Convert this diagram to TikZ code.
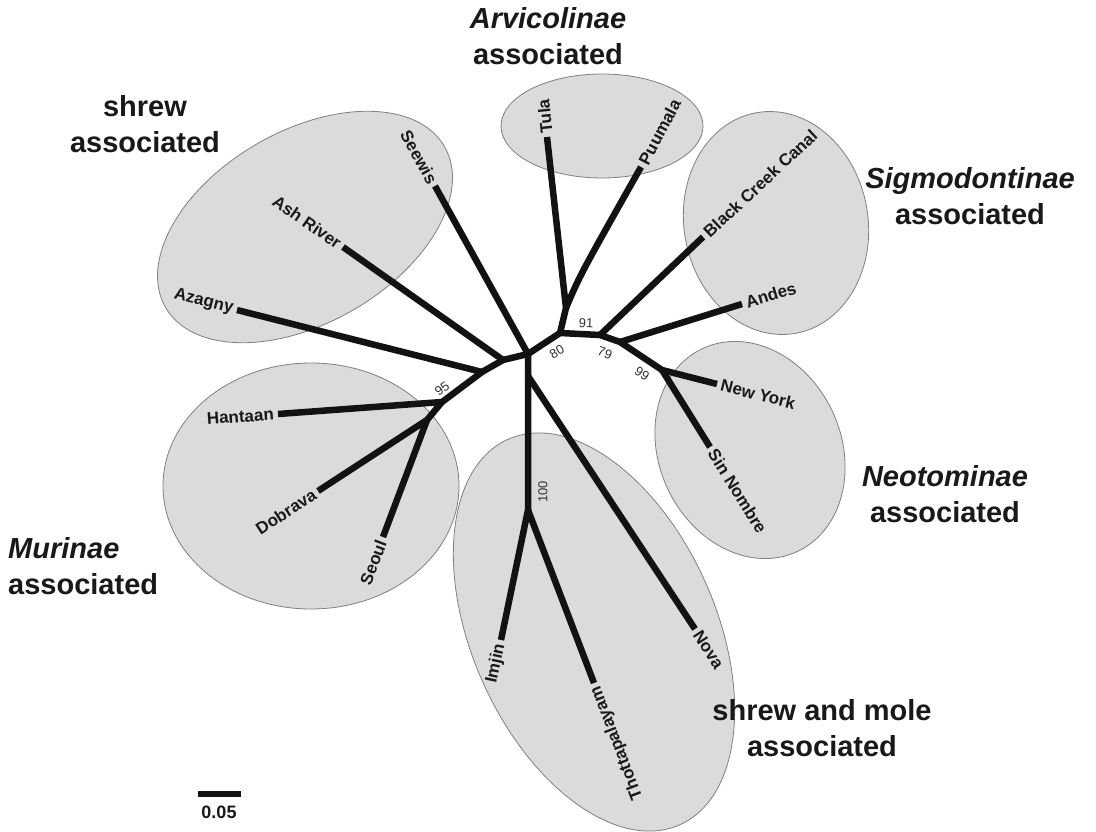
\documentclass[tikz,border=0pt]{standalone}
\usepackage{fontspec}
\setmainfont{Liberation Sans}
\begin{document}
\begin{tikzpicture}[x=1pt,y=-1pt,
  branch/.style={line width=6.5pt, color=black!93, line join=round},
  grp/.style={draw=black!50, line width=0.8pt, fill=black!14},
  taxon/.style={font=\bfseries\fontsize{17}{20}\selectfont, inner sep=4pt, text=black!90},
  boot/.style={font=\fontsize{13}{15}\selectfont, text=black!80, inner sep=1pt},
  group/.style={font=\bfseries\fontsize{29}{36}\selectfont, align=center, text=black!90, inner sep=0pt}]
\useasboundingbox (0,0) rectangle (1096,832);
\fill[white] (0,0) rectangle (1096,832);

% group ellipses
\draw[grp, rotate around={30:(305,227)}] (305,227) ellipse [x radius=161pt, y radius=96pt];
\draw[grp] (602,126) ellipse [x radius=101pt, y radius=52pt];
\draw[grp, rotate around={10:(776,223)}] (776,223) ellipse [x radius=92pt, y radius=112pt];
\draw[grp, rotate around={25:(750,450)}] (750,450) ellipse [x radius=91pt, y radius=112pt];
\draw[grp] (311,486) ellipse [x radius=148pt, y radius=123pt];
\draw[grp, rotate around={24:(594,632)}] (594,632) ellipse [x radius=122pt, y radius=211pt];

% internal nodes
\coordinate (C) at (528,354);
\coordinate (B) at (503,360);
\coordinate (D) at (482,372);
\coordinate (H95) at (442,402);
\coordinate (M) at (427,420);
\coordinate (N) at (528,376);
\coordinate (N100) at (528,510);
\coordinate (A80) at (560,333);
\coordinate (T) at (566,308);
\coordinate (N91) at (600,335);
\coordinate (AN) at (620,342);
\coordinate (N99) at (662,370);
% tips
\coordinate (tSeewis) at (435,186);
\coordinate (tAsh) at (343,247);
\coordinate (tAzagny) at (237,310);
\coordinate (tHantaan) at (278,414);
\coordinate (tDobrava) at (318,491);
\coordinate (tSeoul) at (383,537);
\coordinate (tImjin) at (501,640);
\coordinate (tThott) at (594,683);
\coordinate (tNova) at (695,629);
\coordinate (tSin) at (710,447);
\coordinate (tNY) at (717,384);
\coordinate (tAndes) at (742,304);
\coordinate (tBCC) at (703,237);
\coordinate (tPuumala) at (641,167);
\coordinate (tTula) at (547,137);

% branches
\draw[branch] (tHantaan) -- (H95) -- (D) -- (B) -- (C) -- (A80) -- (N91) -- (AN) -- (N99) -- (tNY);
\draw[branch] (tDobrava) -- (M) -- (H95);
\draw[branch] (tSeoul) -- (M);
\draw[branch] (tAzagny) -- (D);
\draw[branch] (tAsh) -- (B);
\draw[branch] (tSeewis) -- (C);
\draw[branch] (C) -- (N) -- (N100) -- (tImjin);
\draw[branch] (N100) -- (tThott);
\draw[branch] (N) -- (tNova);
\draw[branch] (A80) -- (T) -- (tTula);
\draw[branch] (T) .. controls (580,275) .. (tPuumala);
\draw[branch] (N91) -- (tBCC);
\draw[branch] (AN) -- (tAndes);
\draw[branch] (N99) -- (tSin);
\foreach \p in {C,B,D,H95,M,N,N100,A80,T,N91,AN,N99}
  \fill[black!93] (\p) circle[radius=3.25pt];

% taxon labels
\node[taxon, anchor=east, rotate=-61] (lSeewis) at (tSeewis) {Seewis};
\node[taxon, anchor=east, rotate=-35] (lAsh) at (tAsh) {Ash River};
\node[taxon, anchor=east, rotate=-14] (lAzagny) at (tAzagny) {Azagny};
\node[taxon, anchor=east, rotate=4] (lHantaan) at (tHantaan) {Hantaan};
\node[taxon, anchor=east, rotate=33] (lDobrava) at (tDobrava) {Dobrava};
\node[taxon, anchor=east, rotate=69] (lSeoul) at (tSeoul) {Seoul};
\node[taxon, anchor=east, rotate=78] (lImjin) at (tImjin) {Imjin};
\node[taxon, anchor=east, rotate=111] (lThott) at (tThott) {Thottapalayam};
\node[taxon, anchor=west, rotate=-57] (lNova) at (tNova) {Nova};
\node[taxon, anchor=west, rotate=-58] (lSin) at (tSin) {Sin Nombre};
\node[taxon, anchor=west, rotate=-14] (lNY) at (tNY) {New York};
\node[taxon, anchor=west, rotate=17] (lAndes) at (tAndes) {Andes};
\node[taxon, anchor=west, rotate=43] (lBCC) at (tBCC) {Black Creek Canal};
\node[taxon, anchor=west, rotate=62] (lPuumala) at (tPuumala) {Puumala};
\node[taxon, anchor=west, rotate=96] (lTula) at (tTula) {Tula};

% bootstrap values
\node[boot, rotate=-3] (b91) at (586,323) {91};
\node[boot, rotate=30] (b80) at (557,352) {80};
\node[boot, rotate=-20] (b79) at (605,353) {79};
\node[boot, rotate=-33] (b99) at (642,374) {99};
\node[boot, rotate=36] (b95) at (442,389) {95};
\node[boot, rotate=90] (b100) at (543,492) {100};

% group labels
\node[group] (gShrew) at (145,124) {shrew\\associated};
\node[group] (gArv) at (548,36) {\itshape Arvicolinae\\associated};
\node[group] (gSig) at (970,196) {\itshape Sigmodontinae\\associated};
\node[group] (gNeo) at (945,494) {\itshape Neotominae\\associated};
\node[group, align=left, anchor=west] (gMur) at (8,566) {\itshape Murinae\\associated};
\node[group] (gSM) at (822,728) {shrew and mole\\associated};

% scale bar
\coordinate (sbL) at (198,794);
\coordinate (sbR) at (241,794);
\draw[line width=6pt, black!93] (sbL) -- (sbR);
\node[font=\bfseries\fontsize{18}{20}\selectfont, text=black!90] (sbT) at (219,812) {0.05};
\end{tikzpicture}
\end{document}
